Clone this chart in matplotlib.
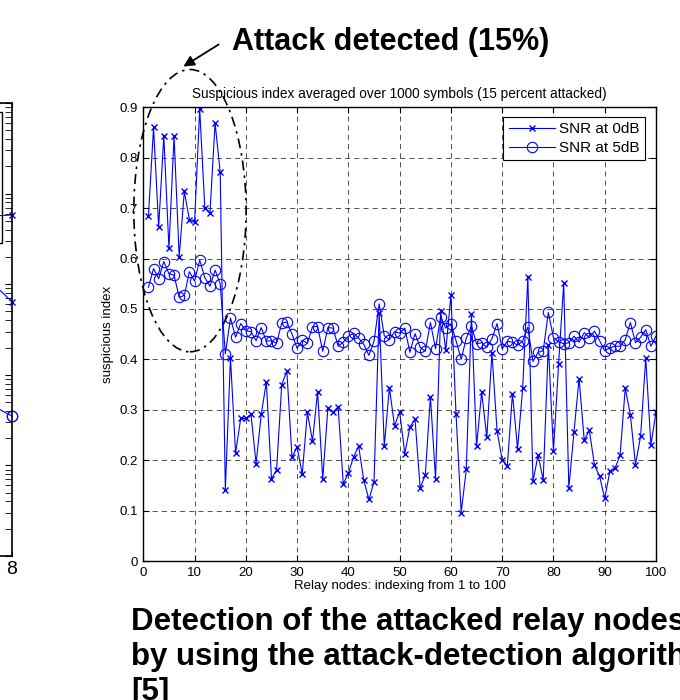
import numpy as np
import matplotlib
matplotlib.use("Agg")
import matplotlib.pyplot as plt
from matplotlib.patches import Ellipse, Rectangle

plt.rcParams['font.family'] = ['Liberation Sans', 'DejaVu Sans']

# ---------------------------------------------------------
# Data
# ---------------------------------------------------------
relay_nodes = np.arange(1, 101)

snr_0db = [
    0.685, 0.860, 0.663, 0.843, 0.620, 0.843, 0.603, 0.733, 0.677, 0.672,
    0.897, 0.700, 0.690, 0.869, 0.771, 0.141, 0.403, 0.214, 0.283, 0.283,
    0.291, 0.193, 0.291, 0.355, 0.163, 0.181, 0.350, 0.377, 0.206, 0.226,
    0.172, 0.295, 0.238, 0.336, 0.163, 0.303, 0.295, 0.306, 0.153, 0.174,
    0.206, 0.228, 0.160, 0.122, 0.157, 0.492, 0.228, 0.344, 0.268, 0.296,
    0.213, 0.266, 0.281, 0.145, 0.170, 0.326, 0.163, 0.495, 0.418, 0.527,
    0.291, 0.096, 0.182, 0.489, 0.228, 0.335, 0.245, 0.413, 0.258, 0.200,
    0.188, 0.332, 0.223, 0.343, 0.563, 0.158, 0.210, 0.161, 0.428, 0.218,
    0.391, 0.551, 0.145, 0.256, 0.362, 0.240, 0.259, 0.190, 0.168, 0.124,
    0.178, 0.184, 0.210, 0.343, 0.290, 0.191, 0.248, 0.403, 0.230, 0.295,
]

snr_5db = [
    0.543, 0.580, 0.560, 0.594, 0.570, 0.567, 0.523, 0.527, 0.574, 0.555,
    0.597, 0.562, 0.545, 0.577, 0.550, 0.411, 0.482, 0.444, 0.471, 0.457,
    0.455, 0.437, 0.463, 0.436, 0.437, 0.432, 0.472, 0.474, 0.450, 0.422,
    0.438, 0.432, 0.465, 0.465, 0.416, 0.463, 0.462, 0.426, 0.434, 0.446,
    0.452, 0.442, 0.430, 0.408, 0.436, 0.510, 0.447, 0.439, 0.455, 0.452,
    0.462, 0.414, 0.451, 0.424, 0.416, 0.473, 0.421, 0.485, 0.462, 0.471,
    0.437, 0.400, 0.442, 0.466, 0.431, 0.433, 0.424, 0.441, 0.471, 0.421,
    0.436, 0.434, 0.428, 0.436, 0.464, 0.396, 0.414, 0.417, 0.493, 0.443,
    0.435, 0.431, 0.433, 0.446, 0.434, 0.453, 0.443, 0.456, 0.437, 0.417,
    0.423, 0.426, 0.426, 0.439, 0.473, 0.433, 0.444, 0.459, 0.426, 0.446,
]

x_ticks = list(range(0, 101, 10))
y_ticks = [0, 0.1, 0.2, 0.3, 0.4, 0.5, 0.6, 0.7, 0.8, 0.9]
y_tick_labels = ["0", "0.1", "0.2", "0.3", "0.4", "0.5", "0.6", "0.7", "0.8", "0.9"]

# neighbouring (cut off) log-scale chart on the left edge
left_x = [7, 8]
left_series_a = [0.055, 0.058]
left_series_b = [0.0185, 0.0064]
left_series_c = [6.4e-4, 3.5e-4]

W, H = 680, 700
fig = plt.figure(figsize=(6.8, 7.0), dpi=100)

def px_box(left, top, right, bottom):
    return [left / W, 1 - bottom / H, (right - left) / W, (bottom - top) / H]

# ---------------------------------------------------------
# Left partial chart
# ---------------------------------------------------------
axl = fig.add_axes(px_box(-340, 103, 12, 556))
axl.set_yscale('log')
axl.set_xlim(0, 8)
axl.set_ylim(1e-5, 1)
axl.plot(left_x, left_series_a, color='b', marker='x', ms=5, lw=0.8, clip_on=False)
axl.plot(left_x, left_series_b, color='b', marker='x', ms=5, lw=0.8, clip_on=False)
axl.plot(left_x, left_series_c, color='b', marker='o', ms=7.5, mfc='none', lw=0.8, clip_on=False)
axl.set_xticks([8])
axl.tick_params(axis='both', which='both', direction='in', right=True, top=True,
                labelleft=False, labelsize=14)
axl.tick_params(axis='y', which='major', length=5)
axl.tick_params(axis='y', which='minor', length=5)
for sp in axl.spines.values():
    sp.set_linewidth(1.2)
fig.patches.append(Rectangle((-100 / W, 1 - 243 / H), 101.5 / W, 131 / H, fill=False,
                             edgecolor='k', lw=1, transform=fig.transFigure))

# ---------------------------------------------------------
# Main chart
# ---------------------------------------------------------
ax = fig.add_axes(px_box(143.3, 107.3, 656, 561))
ax.plot(relay_nodes, snr_0db, color='b', marker='x', ms=4.5, lw=0.8, label='SNR at 0dB')
ax.plot(relay_nodes, snr_5db, color='b', marker='o', ms=7.5, mfc='none', mew=0.8, lw=0.8,
        label='SNR at 5dB')

ax.set_xlim(0, 100)
ax.set_ylim(0, 0.9)
ax.set_xticks(x_ticks)
ax.set_yticks(y_ticks)
ax.set_yticklabels(y_tick_labels)
ax.tick_params(direction='in', top=True, right=True, labelsize=9.5, length=4, pad=4)
ax.grid(True, color='k', linestyle=(0, (6, 5)), linewidth=0.6, alpha=0.8)
for sp in ax.spines.values():
    sp.set_linewidth(1.0)

ax.set_xlabel("Relay nodes: indexing from 1 to 100", fontsize=9.5, labelpad=1)
ax.set_ylabel("suspicious index", fontsize=9.5, labelpad=4)
ax.set_title("Suspicious index averaged over 1000 symbols (15 percent attacked)",
             fontsize=9.8, pad=7)

leg = ax.legend(loc='upper right', bbox_to_anchor=(0.9785, 0.9786), borderaxespad=0,
                fontsize=11, fancybox=False, edgecolor='k', framealpha=1,
                handlelength=3.0, handletextpad=0.3, borderpad=0.35, labelspacing=0.3)
leg.get_frame().set_linewidth(0.8)

# dash-dot ellipse around the attacked nodes
ell = Ellipse((9.1, 0.695), 21.9, 0.56, fill=False, edgecolor='k', lw=1.2,
              linestyle=(0, (6, 3, 1.5, 3)), clip_on=False, zorder=5)
ax.add_patch(ell)

# annotation text and arrow
fig.text(232 / W, 1 - 50 / H, "Attack detected (15%)", fontsize=22, fontweight='bold',
         ha='left', va='baseline')
fig.add_artist(plt.Annotation("", xy=(181 / W, 1 - 68 / H), xytext=(221 / W, 1 - 43 / H),
                              xycoords='figure fraction', textcoords='figure fraction',
                              arrowprops=dict(arrowstyle='-|>', color='k', lw=1.3,
                                              mutation_scale=16)))

# caption below the chart (cut off by the image border, as in the source slide)
caption_lines = ["Detection of the attacked relay nodes",
                 "by using the attack-detection algorithm",
                 "[5]"]
for i, line in enumerate(caption_lines):
    fig.text(131 / W, 1 - (630 + 35 * i) / H, line, fontsize=22.5, fontweight='bold',
             ha='left', va='baseline')

fig.savefig("out.png", dpi=100)
